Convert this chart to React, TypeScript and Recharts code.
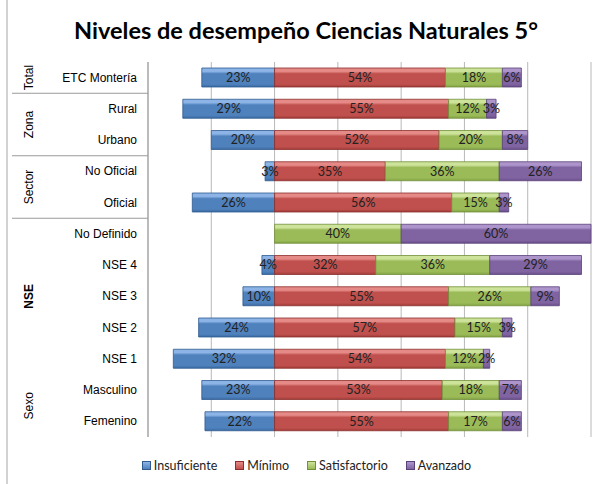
import { BarChart, Bar, XAxis, YAxis, CartesianGrid, LabelList, Legend } from "recharts";

const categories = [
  "ETC Montería",
  "Rural",
  "Urbano",
  "No Oficial",
  "Oficial",
  "No Definido",
  "NSE 4",
  "NSE 3",
  "NSE 2",
  "NSE 1",
  "Masculino",
  "Femenino",
];
const insuficiente = [23, 29, 20, 3, 26, 0, 4, 10, 24, 32, 23, 22];
const minimo = [54, 55, 52, 35, 56, 0, 32, 55, 57, 54, 53, 55];
const satisfactorio = [18, 12, 20, 36, 15, 40, 36, 26, 15, 12, 18, 17];
const avanzado = [6, 3, 8, 26, 3, 60, 29, 9, 3, 2, 7, 6];

// group label, first row, number of rows
const groups = [
  { label: "Total", start: 0, size: 1, line: false, bold: false },
  { label: "Zona", start: 1, size: 2, line: true, bold: false },
  { label: "Sector", start: 3, size: 2, line: true, bold: false },
  { label: "NSE", start: 5, size: 5, line: true, bold: true },
  { label: "Sexo", start: 10, size: 2, line: false, bold: false },
];
const xTicks = [-40, -20, 0, 20, 40, 60, 80, 100];

const series = [
  { key: "insuficiente", name: "Insuficiente", light: "#8db4e6", base: "#4f81bd", dark: "#3a6aa3", stroke: "#2f5b8f" },
  { key: "minimo", name: "Mínimo", light: "#e58a87", base: "#c0504d", dark: "#a03c39", stroke: "#8c2e2b" },
  { key: "satisfactorio", name: "Satisfactorio", light: "#cde39a", base: "#9bbb59", dark: "#83a244", stroke: "#71903a" },
  { key: "avanzado", name: "Avanzado", light: "#ad95cc", base: "#8064a2", dark: "#684e8a", stroke: "#5a4278" },
];

const data = categories.map((name, i) => ({
  name,
  insuficiente: -insuficiente[i],
  minimo: minimo[i],
  satisfactorio: satisfactorio[i],
  avanzado: avanzado[i],
}));

const W = 598;
const H = 484;
const TOP = 62;
const BOTTOM = 10;
const LEGEND_H = 37;
const ROW = (H - TOP - BOTTOM - LEGEND_H) / categories.length;

const CategoryTick = (props: any) => {
  const { y, payload } = props;
  const idx = payload.index;
  const g = groups.find((gr) => gr.start === idx);
  return (
    <g>
      <text
        x={137}
        y={y}
        textAnchor="end"
        dominantBaseline="central"
        fontFamily="'Liberation Sans', Arial, sans-serif"
        fontSize={12}
        fill="#000"
      >
        {payload.value}
      </text>
      {g && g.line && (
        <line x1={12} x2={148} y1={y - ROW / 2} y2={y - ROW / 2} stroke="#9a9a9a" strokeWidth={1.2} />
      )}
      {g && (
        <text
          transform={`translate(29, ${y + ((g.size - 1) * ROW) / 2}) rotate(-90)`}
          textAnchor="middle"
          dominantBaseline="central"
          fontFamily="'Liberation Sans', Arial, sans-serif"
          fontSize={12}
          fontWeight={g.bold ? "bold" : "normal"}
          fill="#000"
        >
          {g.label}
        </text>
      )}
    </g>
  );
};

const LegendContent = () => (
  <div
    style={{
      height: LEGEND_H,
      paddingTop: 20,
      boxSizing: "border-box",
      display: "flex",
      justifyContent: "center",
      paddingLeft: 40,
      fontFamily: "Lato, 'Open Sans', sans-serif",
      fontSize: 12.5,
      color: "#222",
    }}
  >
    {series.map((s) => (
      <div key={s.key} style={{ display: "flex", alignItems: "center", marginRight: 18 }}>
        <span
          style={{
            display: "inline-block",
            width: 7,
            height: 7,
            background: `linear-gradient(${s.light}, ${s.base})`,
            border: `1px solid ${s.stroke}`,
            marginRight: 3,
          }}
        />
        <span>{s.name}</span>
      </div>
    ))}
  </div>
);

export default function App() {
  return (
    <div style={{ position: "absolute", left: 0, top: 0, width: W, height: H, background: "#fff" }}>
      <div
        style={{
          position: "absolute",
          left: 14,
          width: 584,
          top: 15,
          textAlign: "center",
          fontFamily: "Lato, 'Open Sans', sans-serif",
          fontWeight: "bold",
          fontSize: 23.5,
          color: "#000",
          lineHeight: "30px",
        }}
      >
        Niveles de desempeño Ciencias Naturales 5°
      </div>
      <svg style={{ position: "absolute", left: 0, top: 0 }} width={W} height={H}>
        <line x1={7} x2={7} y1={0} y2={H} stroke="#b4b4b4" strokeWidth={1.2} />
      </svg>
      <div style={{ position: "absolute", left: 0, top: 0 }}>
        <BarChart
          width={W}
          height={H}
          data={data}
          layout="vertical"
          stackOffset="sign"
          margin={{ top: TOP, right: 7, bottom: BOTTOM, left: 0 }}
        >
          <defs>
            {series.map((s) => (
              <linearGradient key={s.key} id={`grad-${s.key}`} x1="0" y1="0" x2="0" y2="1">
                <stop offset="0%" stopColor={s.light} />
                <stop offset="18%" stopColor={s.light} />
                <stop offset="30%" stopColor={s.base} />
                <stop offset="85%" stopColor={s.base} />
                <stop offset="100%" stopColor={s.dark} />
              </linearGradient>
            ))}
          </defs>
          <CartesianGrid horizontal={false} stroke="#b8b8b8" />
          <XAxis type="number" domain={[-40, 100]} ticks={xTicks} hide />
          <YAxis
            type="category"
            dataKey="name"
            width={148}
            axisLine={{ stroke: "#9a9a9a" }}
            tickLine={false}
            tick={<CategoryTick />}
            interval={0}
          />
          <Legend verticalAlign="bottom" height={LEGEND_H} content={<LegendContent />} />
          {series.map((s) => (
            <Bar
              key={s.key}
              dataKey={s.key}
              name={s.name}
              stackId="a"
              barSize={19}
              fill={`url(#grad-${s.key})`}
              stroke={s.stroke}
              strokeWidth={0.8}
              isAnimationActive={false}
            >
              <LabelList
                dataKey={s.key}
                position="center"
                formatter={(v: any) => `${Math.abs(Number(v))}%`}
                style={{ fontFamily: "Lato, 'Open Sans', sans-serif", fontSize: 12.5, fill: "#222" }}
              />
            </Bar>
          ))}
        </BarChart>
      </div>
    </div>
  );
}
